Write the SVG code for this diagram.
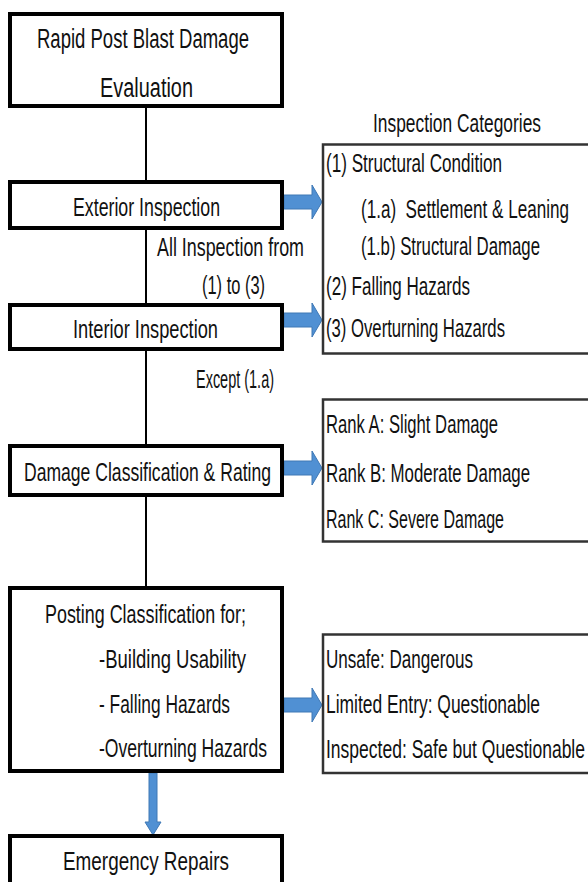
<svg xmlns="http://www.w3.org/2000/svg" width="588" height="882" viewBox="0 0 588 882">
<style>
text{font-family:"Liberation Sans",Arial,sans-serif;font-size:25px;fill:#111}
.big{font-size:27px}
.box{fill:#fff;stroke:#000;stroke-width:4}
.rbox{fill:#fff;stroke:#333;stroke-width:2.5}
.line{stroke:#000;stroke-width:2;fill:none}
.arrow{fill:#5090D3;stroke:#3F78B5;stroke-width:1}
</style>
<rect width="588" height="882" fill="#fff"/>
<g id="connectors">
<line class="line" x1="146" y1="106" x2="146" y2="182"/>
<line class="line" x1="146" y1="228" x2="146" y2="305"/>
<line class="line" x1="146" y1="349" x2="146" y2="446"/>
<line class="line" x1="146" y1="495" x2="146" y2="588"/>
<polygon class="arrow" points="284,195 312,195 312,185 322,202 312,219 312,209 284,209"/>
<polygon class="arrow" points="284,313 312,313 312,303 322,320 312,337 312,327 284,327"/>
<polygon class="arrow" points="284,461 312,461 312,451 322,468 312,485 312,475 284,475"/>
<polygon class="arrow" points="284,698 312,698 312,688 322,705 312,722 312,712 284,712"/>
<polygon class="arrow" points="149,773 157,773 157,822 161,822 153,835 145,822 149,822"/>
<text x="157" y="256" lengthAdjust="spacingAndGlyphs" textLength="147">All Inspection from</text>
<text x="202" y="294" lengthAdjust="spacingAndGlyphs" textLength="63">(1) to (3)</text>
<text x="196" y="388" lengthAdjust="spacingAndGlyphs" textLength="78">Except (1.a)</text>
</g>
<g id="n1">
<rect class="box" x="10" y="14" width="272" height="92"/>
<text class="big" x="37" y="48" lengthAdjust="spacingAndGlyphs" textLength="212">Rapid Post Blast Damage</text>
<text class="big" x="100" y="97" lengthAdjust="spacingAndGlyphs" textLength="93">Evaluation</text>
</g>
<g id="n2">
<rect class="box" x="10" y="182" width="272" height="46"/>
<text x="73" y="216" lengthAdjust="spacingAndGlyphs" textLength="147">Exterior Inspection</text>
</g>
<g id="n3">
<rect class="box" x="10" y="305" width="272" height="44"/>
<text x="73" y="338" lengthAdjust="spacingAndGlyphs" textLength="145">Interior Inspection</text>
</g>
<g id="n4">
<rect class="box" x="10" y="446" width="272" height="49"/>
<text x="24" y="481" lengthAdjust="spacingAndGlyphs" textLength="247">Damage Classification &amp; Rating</text>
</g>
<g id="n5">
<rect class="box" x="10" y="588" width="272" height="183"/>
<text x="45" y="623" lengthAdjust="spacingAndGlyphs" textLength="201">Posting Classification for;</text>
<text x="99" y="668" lengthAdjust="spacingAndGlyphs" textLength="147">-Building Usability</text>
<text x="99" y="713" lengthAdjust="spacingAndGlyphs" textLength="131">- Falling Hazards</text>
<text x="99" y="757" lengthAdjust="spacingAndGlyphs" textLength="168">-Overturning Hazards</text>
</g>
<g id="n6">
<rect class="box" x="10" y="836" width="272" height="60"/>
<text x="63" y="870" lengthAdjust="spacingAndGlyphs" textLength="166">Emergency Repairs</text>
</g>
<g id="r1">
<text x="373" y="132" lengthAdjust="spacingAndGlyphs" textLength="168">Inspection Categories</text>
<rect class="rbox" x="323" y="144.5" width="300" height="209"/>
<text x="326" y="172" lengthAdjust="spacingAndGlyphs" textLength="176">(1) Structural Condition</text>
<text x="361" y="218" xml:space="preserve" lengthAdjust="spacingAndGlyphs" textLength="208">(1.a)  Settlement &amp; Leaning</text>
<text x="361" y="255" lengthAdjust="spacingAndGlyphs" textLength="179">(1.b) Structural Damage</text>
<text x="326" y="295" lengthAdjust="spacingAndGlyphs" textLength="144">(2) Falling Hazards</text>
<text x="326" y="337" lengthAdjust="spacingAndGlyphs" textLength="179">(3) Overturning Hazards</text>
</g>
<g id="r2">
<rect class="rbox" x="323" y="399.5" width="300" height="142"/>
<text x="326" y="433" lengthAdjust="spacingAndGlyphs" textLength="172">Rank A: Slight Damage</text>
<text x="326" y="482" lengthAdjust="spacingAndGlyphs" textLength="204">Rank B: Moderate Damage</text>
<text x="326" y="528" lengthAdjust="spacingAndGlyphs" textLength="178">Rank C: Severe Damage</text>
</g>
<g id="r3">
<rect class="rbox" x="323" y="634.5" width="300" height="138.5"/>
<text x="326" y="668" lengthAdjust="spacingAndGlyphs" textLength="147">Unsafe: Dangerous</text>
<text x="326" y="713" lengthAdjust="spacingAndGlyphs" textLength="214">Limited Entry: Questionable</text>
<text x="326" y="758" lengthAdjust="spacingAndGlyphs" textLength="259">Inspected: Safe but Questionable</text>
</g>
</svg>
